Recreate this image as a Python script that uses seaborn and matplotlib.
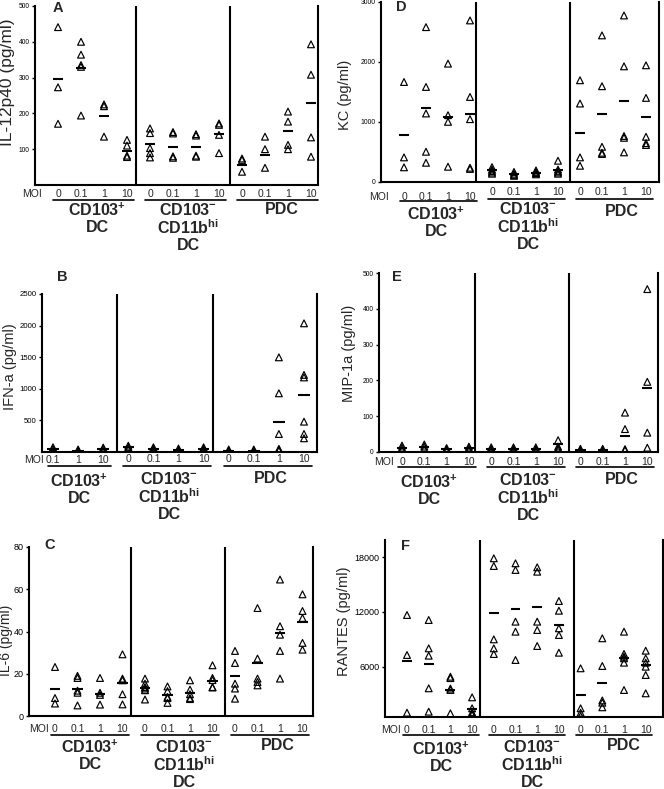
import matplotlib
matplotlib.use("Agg")
import matplotlib.pyplot as plt
import matplotlib.transforms as mtransforms
import numpy as np
import pandas as pd
import seaborn as sns

W, H = 664, 789

# ---------------- data ----------------
moi_levels = ["0", "0.1", "1", "10"]
moi_levels_b = ["0.1", "1", "10"]          # CD103+ DC in panel B has no MOI 0
group_names = [r"CD103$^{\mathbf{+}}$" "\nDC",
               r"CD103$^{\mathbf{-}}$" "\n" r"CD11b$^{\mathbf{hi}}$" "\nDC",
               "PDC"]

# A: IL-12p40 (pg/ml); order CD103+ (0,0.1,1,10), CD103- (...), PDC (...)
il12_values = [[441, 273, 171], [400, 364, 335, 330, 194], [225, 220, 135], [126, 110, 82, 78],
               [158, 145, 103, 89, 77], [148, 144, 80, 76], [142, 138, 82, 79], [172, 168, 140, 89],
               [74, 70, 37], [135, 100, 48], [205, 177, 112, 100], [393, 308, 133, 79]]
il12_means = [297, 327, 194, 96, 115, 107, 107, 143, 56, 84, 152, 230]

# B: IFN-a (pg/ml); CD103+ (0.1,1,10), CD103- (0,0.1,1,10), PDC (0,0.1,1,10)
ifna_values = [[75, 45, 15], [40, 20, 5], [70, 45, 15],
               [100, 75, 45], [75, 50, 20], [55, 30, 10], [75, 50, 20],
               [40, 20, 5], [40, 20, 5], [1498, 929, 285, 50, 35, 20], [2036, 1220, 1180, 480, 285, 217]]
ifna_means = [40, 20, 40, 72, 47, 30, 47, 20, 20, 480, 902]

# C: IL-6 (pg/ml)
il6_values = [[23.2, 8.5, 5.9], [19, 18, 12, 11, 5], [18, 11, 10, 5.4], [29.2, 17.7, 16.9, 10.3, 5.5],
              [17.7, 15.3, 13.7, 13, 12.2, 7.8], [14, 11.8, 9, 8.5, 6.2], [16.9, 12.5, 10.3, 8.5, 8],
              [24, 18, 17, 13.7, 13.5],
              [30.8, 25.1, 15.3, 13, 8.2], [51.1, 27.2, 17.7, 16.1, 14.5], [64.6, 42.5, 38.5, 30.8, 17.7],
              [57.6, 49.7, 46.4, 34.6, 31.4]]
il6_means = [12.6, 13, 10.6, 15.6, 13.4, 9.8, 10.9, 16.6, 18.8, 25.1, 39.3, 44.5]

# D: KC (pg/ml)
kc_values = [[1663, 403, 237], [2580, 1580, 1137, 497, 313], [1970, 1108, 997, 247], [2692, 1413, 1042, 230, 210],
             [240, 200, 175, 150, 130], [160, 130, 110, 95], [185, 160, 140, 120], [347, 200, 170, 150, 130],
             [1692, 1303, 403, 263], [2442, 1592, 580, 480, 460], [2775, 1925, 760, 730, 487],
             [1942, 1397, 747, 640, 610]]
kc_means = [775, 1230, 1080, 1125, 185, 125, 147, 192, 813, 1120, 1347, 1080]

# E: MIP-1a (pg/ml)
mip_values = [[18, 12, 6], [21, 15, 8], [11, 7, 3], [15, 10, 5],
              [13, 8, 4], [13, 8, 4], [13, 8, 4], [33, 15, 10, 5],
              [9, 5, 2], [9, 5, 2], [110, 64, 8, 5], [455, 196, 54, 12]]
mip_means = [12, 15, 7, 10, 8, 8, 8, 21, 5, 5, 46, 178]

# F: RANTES (pg/ml)
rantes_values = [[11670, 7283, 954], [11120, 8014, 7210, 3630, 1064], [4900, 4750, 3600, 3450, 888],
                 [2640, 1437, 1000, 888, 700],
                 [17890, 17045, 9000, 8014, 7390], [17340, 16610, 10940, 9840, 6735],
                 [16900, 16420, 10940, 10025, 8270], [13206, 12140, 10210, 9477, 7535],
                 [5824, 1437, 954, 590], [9115, 6077, 2300, 2050, 1547],
                 [9840, 7400, 7100, 6920, 6440, 3444], [7755, 6920, 6440, 6000, 5090, 3080]]
rantes_means = [6660, 6296, 3445, 1327, 11850, 12330, 12515, 10573, 2896, 4245, 6920, 6186]

# ---------------- layout (pixels) ----------------
std_groups = [(0, 3), (4, 7), (8, 11)]
b_groups = [(0, 2), (3, 6), (7, 10)]
std_cats = moi_levels * 3
b_cats = moi_levels_b + moi_levels * 2

panels = [
    dict(letter="A", values=il12_values, means=il12_means, ylabel="IL-12p40 (pg/ml)",
         rect=(35, 6, 318, 185), origin=58, ppu=23.0, seps=[136, 230],
         ylim=(0, 500), yticks=[100, 200, 300, 400, 500], tickfs=4.8,
         groups=std_groups, cats=std_cats, ylab_xy=(8, 82), ylab_fs=12.5, letter_xy=(58, 8),
         moi_x=32, cat_y=[194, 194, 194], line_y=[200, 200, 200],
         grp_x=[97, 188, 282], grp_y=[211, 211, 211]),
    dict(letter="B", values=ifna_values, means=ifna_means, ylabel="IFN-a (pg/ml)",
         rect=(42, 294, 317, 452), origin=53, ppu=25.1, seps=[117, 213],
         ylim=(0, 2500), yticks=[500, 1000, 1500, 2000, 2500], tickfs=5.6,
         groups=b_groups, cats=b_cats, ylab_xy=(10, 367), ylab_fs=10.5, letter_xy=(62, 277),
         moi_x=34, cat_y=[460, 459, 459], line_y=[466, 466, 466],
         grp_x=[79, 169, 271], grp_y=[482, 480, 480]),
    dict(letter="C", values=il6_values, means=il6_means, ylabel="IL-6 (pg/ml)",
         rect=(29, 547, 313, 716), origin=55, ppu=22.5, seps=[131, 225],
         ylim=(0, 80), yticks=[0, 20, 40, 60, 80], tickfs=6.5,
         groups=std_groups, cats=std_cats, ylab_xy=(6.5, 640), ylab_fs=10, letter_xy=(50, 545),
         moi_x=39, cat_y=[729, 729, 729], line_y=[735, 735, 735],
         grp_x=[90, 184, 278], grp_y=[748, 748, 747]),
    dict(letter="D", values=kc_values, means=kc_means, ylabel="KC (pg/ml)",
         rect=(381, 2, 659, 181.5), origin=404, ppu=22.0, seps=[476, 570],
         ylim=(0, 3000), yticks=[0, 1000, 2000, 3000], tickfs=4.9,
         groups=std_groups, cats=std_cats, ylab_xy=(345, 95), ylab_fs=10.5, letter_xy=(401, 7),
         moi_x=379, cat_y=[197, 192, 192], line_y=[201, 199, 199],
         grp_x=[436, 528, 622], grp_y=[215, 210, 213]),
    dict(letter="E", values=mip_values, means=mip_means, ylabel="MIP-1a (pg/ml)",
         rect=(379, 273, 658, 452), origin=402, ppu=22.3, seps=[475, 569],
         ylim=(0, 500), yticks=[0, 100, 200, 300, 400, 500], tickfs=4.8,
         groups=std_groups, cats=std_cats, ylab_xy=(349, 353), ylab_fs=10.5, letter_xy=(397, 277),
         moi_x=384, cat_y=[462, 462, 462], line_y=[467, 467, 467],
         grp_x=[429, 528, 622], grp_y=[483, 481, 481]),
    dict(letter="F", values=rantes_values, means=rantes_means, ylabel="RANTES (pg/ml)",
         rect=(385, 540, 663, 717), origin=407, ppu=21.7, seps=[480, 574],
         ylim=(483, 19897), yticks=[6000, 12000, 18000], tickfs=6.5,
         groups=std_groups, cats=std_cats, ylab_xy=(344, 621), ylab_fs=10.5, letter_xy=(405, 546),
         moi_x=391, cat_y=[730, 730, 730], line_y=[735, 735, 735],
         grp_x=[441, 532, 624], grp_y=[750, 748, 747]),
]

# ---------------- drawing ----------------
sns.set_theme(style="ticks")
plt.rcParams["font.family"] = ["Liberation Sans", "DejaVu Sans"]
plt.rcParams["mathtext.fontset"] = "custom"
plt.rcParams["mathtext.rm"] = "Liberation Sans"
plt.rcParams["mathtext.bf"] = "Liberation Sans:bold"
plt.rcParams["mathtext.it"] = "Liberation Sans:italic"

fig = plt.figure(figsize=(W / 100, H / 100), dpi=100)


def fx(px):
    return px / W


def fy(py):
    return 1 - py / H


for p in panels:
    l, t, r, b = p["rect"]
    ax = fig.add_axes([fx(l), fy(b), (r - l) / W, (b - t) / H])
    o, u = p["origin"], p["ppu"]
    to_data = lambda px: (px - o) / u

    rows = [(i, v) for i, vals in enumerate(p["values"]) for v in vals]
    df = pd.DataFrame(rows, columns=["pos", "value"])
    sns.scatterplot(data=df, x="pos", y="value", marker="^", s=24, facecolor="none",
                    edgecolor="black", linewidth=0.85, ax=ax, zorder=3, legend=False)
    pos = np.arange(len(p["means"]))
    ax.hlines(p["means"], pos - 0.23, pos + 0.23, color="black", lw=1.5, zorder=3)

    ax.set_xlim(to_data(l), to_data(r))
    ax.set_ylim(*p["ylim"])
    ax.set_yticks(p["yticks"])
    ax.set_yticklabels([str(v) for v in p["yticks"]], fontsize=p["tickfs"])
    ax.set_xticks([])
    ax.set_xlabel("")
    ax.set_ylabel("")
    ax.tick_params(axis="y", length=2.5, width=1, pad=1.5, colors="black")
    ax.spines["top"].set_visible(False)
    for sp in ["left", "bottom", "right"]:
        ax.spines[sp].set_linewidth(1.5)
        ax.spines[sp].set_color("black")
    for s in p["seps"]:
        ax.axvline(to_data(s), color="black", lw=1.5)

    tr = mtransforms.blended_transform_factory(ax.transData, fig.transFigure)
    # MOI row
    fig.text(fx(p["moi_x"]), fy(p["cat_y"][0]), "MOI", ha="center", va="center", fontsize=7.5)
    for gi, ((g0, g1), gx, gy, name) in enumerate(zip(p["groups"], p["grp_x"], p["grp_y"], group_names)):
        for i in range(g0, g1 + 1):
            ax.text(i, fy(p["cat_y"][gi]), p["cats"][i], transform=tr, ha="center", va="center",
                    fontsize=7.5, clip_on=False)
        ax.plot([g0 - 0.2, g1 + 0.3], [fy(p["line_y"][gi])] * 2, transform=tr, color="black",
                lw=1.2, clip_on=False)
        fig.text(fx(gx), fy(gy - 9), name, ha="center", va="top", fontsize=11.5,
                 fontweight="bold", linespacing=1.05, multialignment="center")

    fig.text(fx(p["ylab_xy"][0]), fy(p["ylab_xy"][1]), p["ylabel"], rotation=90,
             ha="center", va="center", fontsize=p["ylab_fs"])
    fig.text(fx(p["letter_xy"][0]), fy(p["letter_xy"][1]), p["letter"], ha="center",
             va="center", fontsize=10.5, fontweight="bold")

fig.savefig("out.png", dpi=100)
